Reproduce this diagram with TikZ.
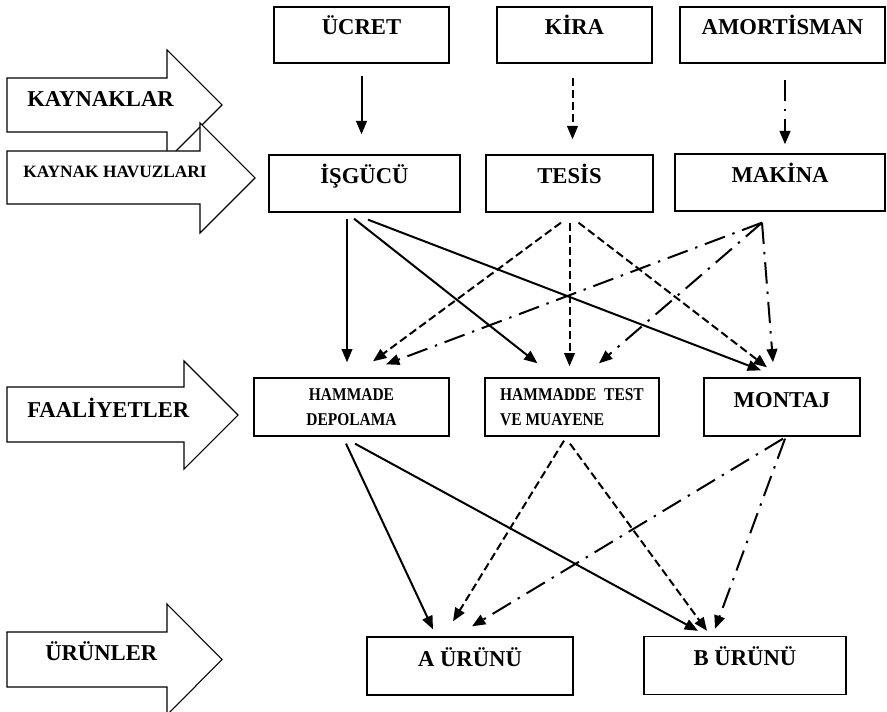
\documentclass[tikz,border=0pt]{standalone}
\usepackage{fontspec}
\setmainfont{Liberation Serif}
\newfontfamily\narrowserif{Liberation Serif}[FakeStretch=0.86]
\usepackage{tikz}
\usetikzlibrary{calc,arrows.meta}
\newcommand{\boxfont}{\fontsize{17}{20}\selectfont\bfseries}
\newcommand{\smallboxfont}{\narrowserif\fontsize{13.5}{18.75}\selectfont\bfseries}
\newcommand{\poolfont}{\fontsize{13}{15}\selectfont\bfseries}

\tikzset{
  box/.style={draw=black, line width=1pt, inner sep=0pt, font=\boxfont},
  labelbox/.style={box, text height=8pt, text depth=8pt},
  sidearrow/.style={draw=black, line width=0.8pt, fill=white, line join=miter},
  sidelabel/.style={anchor=base west, inner sep=0pt, font=\boxfont},
  flow/.style={line width=1.5pt, -{Triangle[length=10pt,width=8pt]}},
  solidflow/.style={flow},
  dashflow/.style={flow, dash pattern=on 6pt off 3pt},
  dotdashflow/.style={flow, dash pattern=on 16pt off 6pt on 1.8pt off 6pt}
}

\begin{document}
\begin{tikzpicture}[x=0.75pt, y=-0.75pt]
\useasboundingbox (0,0) rectangle (887,712);

% Level arrows on the left
\draw[sidearrow] (7,78) -- (167,78) -- (167,50) -- (222,105) -- (167,160) -- (167,132) -- (7,132) -- cycle;
\node[sidelabel] (kaynaklar) at (27,107) {KAYNAKLAR};
\draw[sidearrow] (7,151) -- (200,151) -- (200,123) -- (255,178) -- (200,233) -- (200,204) -- (7,204) -- cycle;
\node[sidelabel, font=\poolfont] (havuzlar) at (23,178) {KAYNAK HAVUZLARI};
\draw[sidearrow] (7,387) -- (184,387) -- (184,361) -- (238,415) -- (184,469) -- (184,442) -- (7,442) -- cycle;
\node[sidelabel] (faaliyetler) at (27,417) {FAAL\.IYETLER};
\draw[sidearrow] (7,632) -- (167,632) -- (167,604) -- (222,659.5) -- (167,715) -- (167,687) -- (7,687) -- cycle;
\node[sidelabel] (urunler) at (45,660) {ÜRÜNLER};

% Resources
\node[labelbox, minimum width=131.25pt, minimum height=42pt] (ucret) at (361.5,35) {ÜCRET};
\node[labelbox, minimum width=116.25pt, minimum height=42pt] (kira) at (574.5,35) {K\.IRA};
\node[labelbox, minimum width=153.75pt, minimum height=42pt] (amortisman) at (782.5,35) {AMORT\.ISMAN};

% Resource pools
\node[labelbox, minimum width=143.25pt, minimum height=42.75pt] (isgucu) at (364.5,183.5) {İŞGÜCÜ};
\node[labelbox, minimum width=125.25pt, minimum height=42.75pt] (tesis) at (569.5,183.5) {TES\.IS};
\node[labelbox, minimum width=157.5pt, minimum height=42.75pt] (makina) at (780,182.5) {MAK\.INA};

% Activities
\node[box, minimum width=146.25pt, minimum height=43.5pt, align=center, font=\smallboxfont] (depolama) at (351.5,407) {HAMMADE\\DEPOLAMA};
\node[box, minimum width=130.5pt, minimum height=43.5pt, align=left, font=\smallboxfont] (muayene) at (572,407) {HAMMADDE~ TEST\\VE MUAYENE};
\node[labelbox, minimum width=117pt, minimum height=43.5pt] (montaj) at (782,407) {MONTAJ};

% Products
\node[labelbox, minimum width=154.5pt, minimum height=43.5pt] (urunA) at (470,666) {A ÜRÜNÜ};
\node[labelbox, minimum width=151.5pt, minimum height=43.5pt] (urunB) at (745,665.5) {B ÜRÜNÜ};

% Resources to pools
\draw[solidflow] ($(ucret.south)+(0,12)$) -- ($(ucret.south |- isgucu.north)+(0,-20)$);
\draw[dashflow] ($(kira.south)+(-2,14)$) -- ($(kira.south |- tesis.north)+(-2,-15)$);
\draw[dotdashflow] ($(amortisman.south)+(2.5,16)$) -- ($(amortisman.south |- makina.north)+(2.5,-9)$);

% Pools to activities
\draw[solidflow] ($(isgucu.south)+(-17.5,6)$) -- ($(depolama.north)+(-4.5,-15)$);
\draw[solidflow] ($(isgucu.south)+(-10.5,6)$) -- ($(muayene.north)+(-34.5,-14)$);
\draw[solidflow] ($(isgucu.south)+(3.5,7)$) -- ($(montaj.north)+(-21,-7)$);
\draw[dashflow] ($(tesis.south)+(-8.5,10)$) -- ($(depolama.north)+(21.5,-16)$);
\draw[dashflow] ($(tesis.south)+(0,10)$) -- ($(muayene.north)+(-2.5,-11)$);
\draw[dashflow] ($(tesis.south)+(9,10)$) -- ($(montaj.north)+(-15,-10)$);
\draw[dotdashflow] ($(makina.south)+(-18,11)$) -- ($(depolama.north)+(34.5,-13)$);
\draw[dotdashflow] ($(makina.south)+(-18,11)$) -- ($(muayene.north)+(27,-14)$);
\draw[dotdashflow] ($(makina.south)+(-18,11)$) -- ($(montaj.north)+(-9,-15)$);

% Activities to products
\draw[solidflow] ($(depolama.south)+(-5.5,7)$) -- ($(urunA.north)+(-37,-7)$);
\draw[solidflow] ($(depolama.south)+(3.5,7)$) -- ($(urunB.north)+(-47,-5)$);
\draw[dashflow] ($(muayene.south)+(-8,4)$) -- ($(urunA.north)+(-17,-15)$);
\draw[dashflow] ($(muayene.south)+(-2,7)$) -- ($(urunB.north)+(-38,-5)$);
\draw[dotdashflow] ($(montaj.south)+(1,2)$) -- ($(urunA.north)+(2,-10)$);
\draw[dotdashflow] ($(montaj.south)+(3,2)$) -- ($(urunB.north)+(-30,-7)$);
\end{tikzpicture}
\end{document}
